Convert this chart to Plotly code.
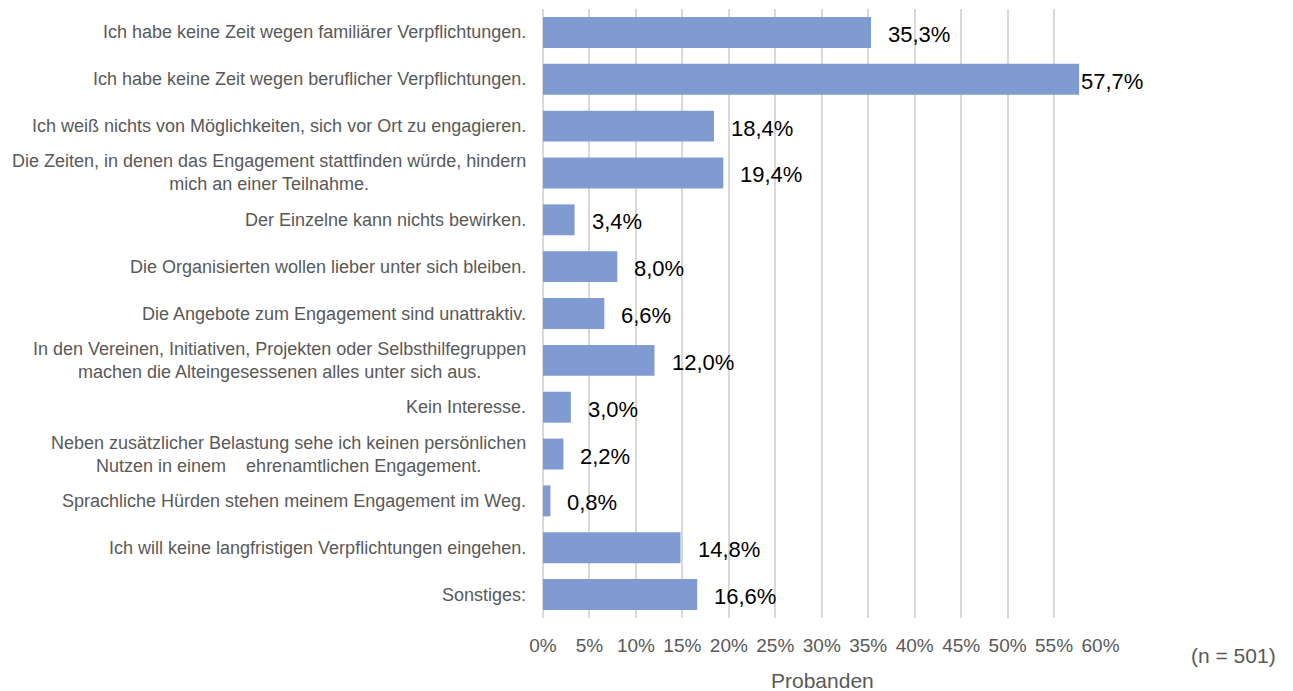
import plotly.graph_objects as go

categories = [
    "Ich habe keine Zeit wegen familiärer Verpflichtungen.",
    "Ich habe keine Zeit wegen beruflicher Verpflichtungen.",
    "Ich weiß nichts von Möglichkeiten, sich vor Ort zu engagieren.",
    "Die Zeiten, in denen das Engagement stattfinden würde, hindern<br>mich an einer Teilnahme.",
    "Der Einzelne kann nichts bewirken.",
    "Die Organisierten wollen lieber unter sich bleiben.",
    "Die Angebote zum Engagement sind unattraktiv.",
    "In den Vereinen, Initiativen, Projekten oder Selbsthilfegruppen<br>machen die Alteingesessenen alles unter sich aus.",
    "Kein Interesse.",
    "Neben zusätzlicher Belastung sehe ich keinen persönlichen<br>Nutzen in einem \u00a0\u00a0\u00a0ehrenamtlichen Engagement.",
    "Sprachliche Hürden stehen meinem Engagement im Weg.",
    "Ich will keine langfristigen Verpflichtungen eingehen.",
    "Sonstiges:",
]
values = [35.3, 57.7, 18.4, 19.4, 3.4, 8.0, 6.6, 12.0, 3.0, 2.2, 0.8, 14.8, 16.6]
tick_vals = list(range(0, 65, 5))
tick_text = [f"{v}%" for v in tick_vals]

labels = [f"{v:.1f}".replace(".", ",") + "%" for v in values]
ids = [f"c{i}" for i in range(len(categories))]

fig = go.Figure()
fig.add_trace(go.Bar(
    y=ids, x=values, orientation="h",
    marker=dict(color="#7f9bd1", line=dict(width=0)),
    hoverinfo="skip",
))

annotations = []
for cid, cat in zip(ids, categories):
    annotations.append(dict(
        x=0, xref="paper", y=cid, yref="y", text=cat, showarrow=False,
        xanchor="right", yanchor="middle", align="center", xshift=-15,
        font=dict(family="Liberation Sans, Arial", size=18, color="#595959"),
    ))
for cid, v, lab in zip(ids, values, labels):
    annotations.append(dict(
        x=v, xref="x", y=cid, yref="y", text=lab, showarrow=False,
        xanchor="left", yanchor="middle", xshift=(0 if v > 55 else 15), yshift=-2,
        font=dict(family="Liberation Sans, Arial", size=22, color="#000000"),
    ))
annotations.append(dict(
    x=0.5, xref="paper", y=0, yref="paper", text="Probanden", showarrow=False,
    xanchor="center", yanchor="middle", yshift=-62,
    font=dict(family="Liberation Sans, Arial", size=21, color="#595959"),
))
annotations.append(dict(
    x=1.2366, xref="paper", y=0, yref="paper", text="(n = 501)", showarrow=False,
    xanchor="center", yanchor="middle", yshift=-37,
    font=dict(family="Liberation Sans, Arial", size=21, color="#595959"),
))

# The page adds an 8px body margin; size the figure so the plot lands where the reference has it.
fig.update_layout(
    width=1285, height=683,
    margin=dict(l=535, r=192, t=1, b=73),
    paper_bgcolor="white", plot_bgcolor="white",
    bargap=0.34,
    showlegend=False,
    annotations=annotations,
    xaxis=dict(
        range=[0, 60.05], tickvals=tick_vals, ticktext=tick_text,
        showgrid=True, gridcolor="#d9d9d9", gridwidth=1.5,
        zeroline=True, zerolinecolor="#d9d9d9", zerolinewidth=1.5,
        showline=False, ticks="", ticklabelstandoff=14,
        tickfont=dict(family="Liberation Sans, Arial", size=19, color="#595959"),
    ),
    yaxis=dict(
        categoryorder="array", categoryarray=ids, autorange="reversed",
        showticklabels=False, showgrid=False, zeroline=False, ticks="",
    ),
)

fig.write_html("out.html")
